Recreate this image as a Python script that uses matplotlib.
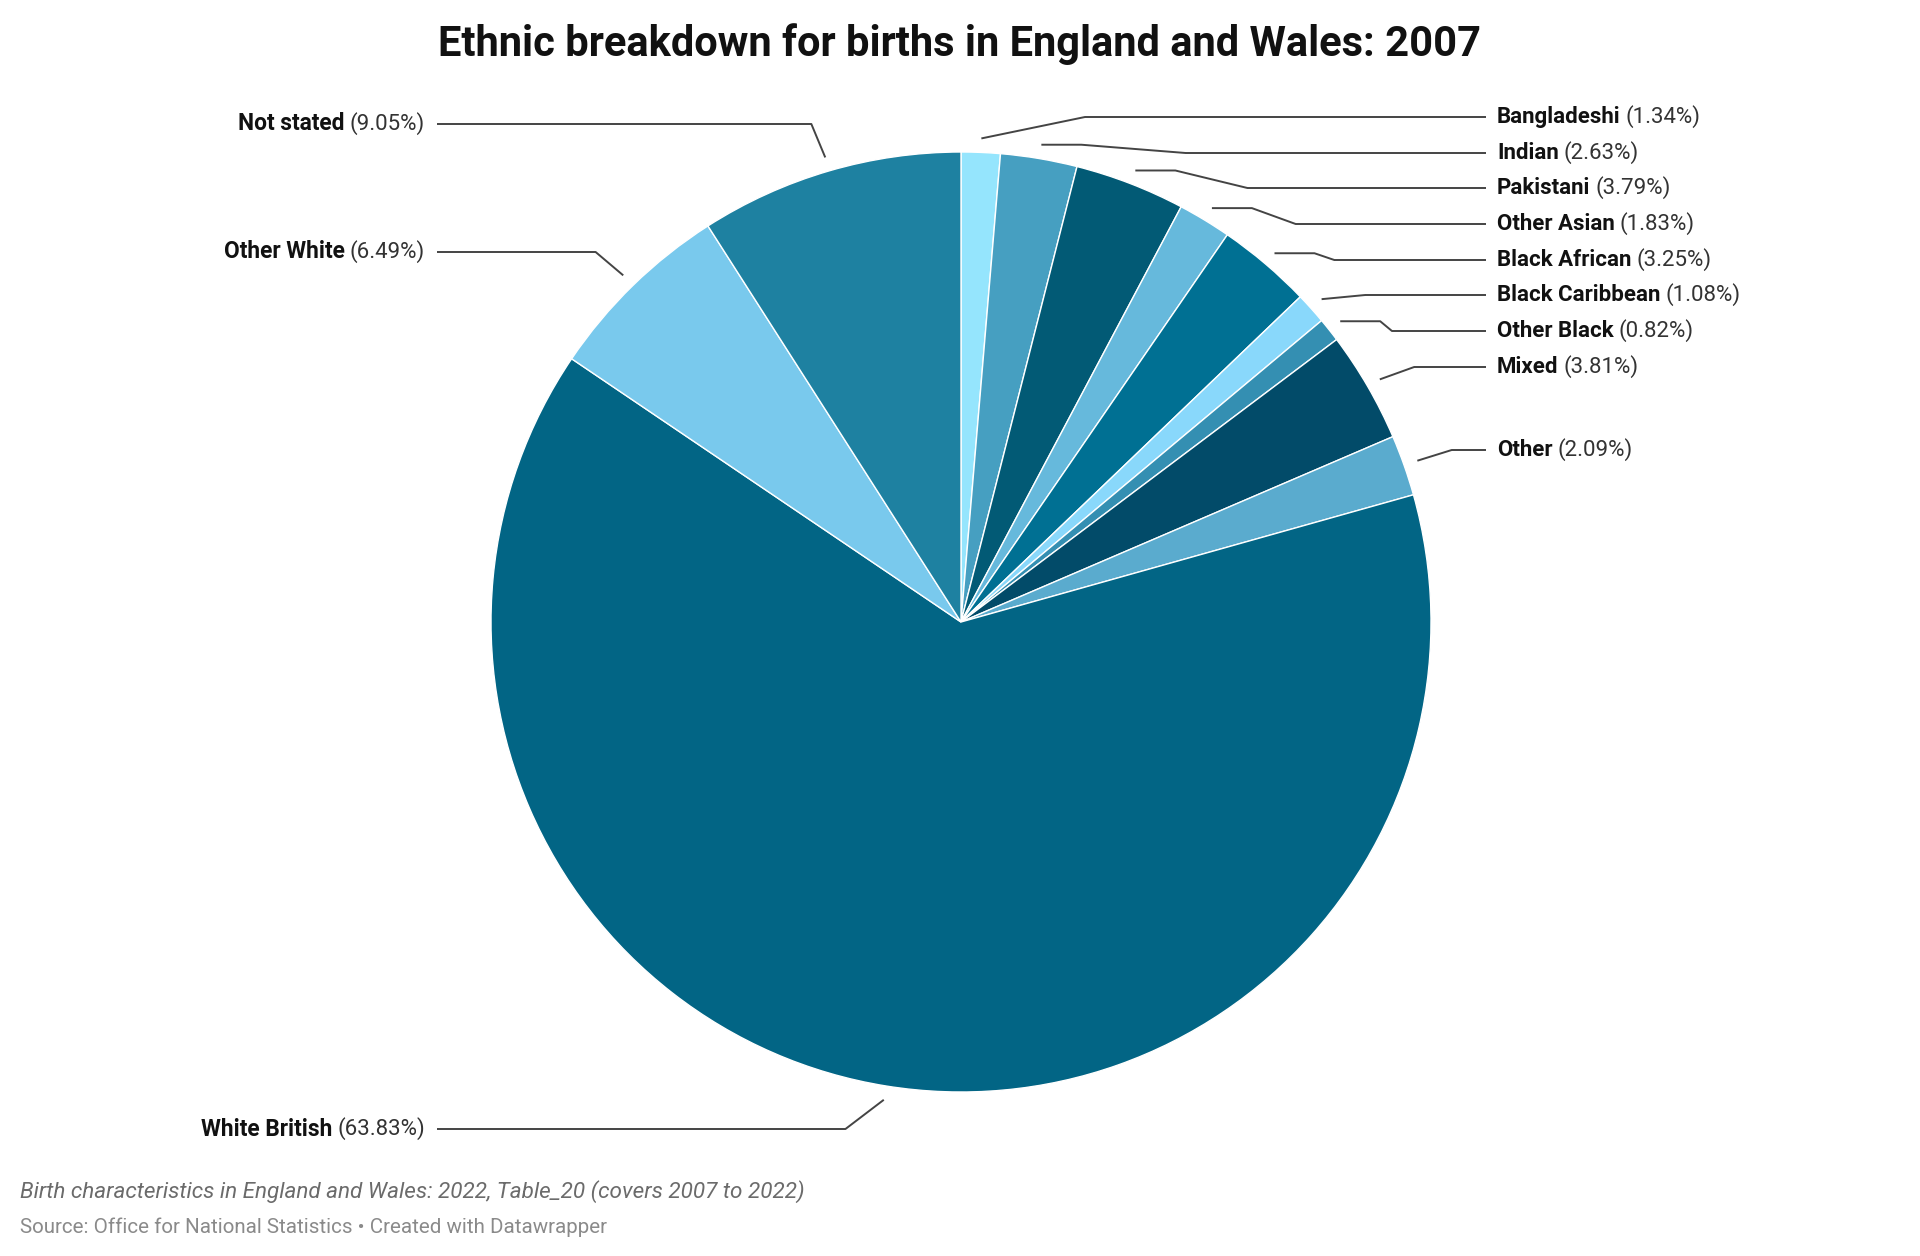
import numpy as np
import matplotlib
matplotlib.use("Agg")
import matplotlib.pyplot as plt

plt.rcParams['font.family'] = ['Roboto', 'DejaVu Sans']

# data, clockwise from 12 o'clock
groups = ['Bangladeshi', 'Indian', 'Pakistani', 'Other Asian', 'Black African',
          'Black Caribbean', 'Other Black', 'Mixed', 'Other', 'White British',
          'Other White', 'Not stated']
shares = [1.34, 2.63, 3.79, 1.83, 3.25, 1.08, 0.82, 3.81, 2.09, 63.83, 6.49, 9.05]
colours = ['#95e5fd', '#469fc1', '#025a75', '#66b9dc', '#007093', '#89d8fb',
           '#348fb2', '#024b69', '#5aabce', '#026585', '#79c9ed', '#1e81a1']

# label layout (pixel rows, measured from the top)
label_rows = {'Bangladeshi': 117, 'Indian': 153, 'Pakistani': 188, 'Other Asian': 224,
              'Black African': 260, 'Black Caribbean': 295, 'Other Black': 331,
              'Mixed': 367, 'Other': 450, 'Not stated': 124, 'Other White': 252,
              'White British': 1129}

W, H = 1920, 1256
CX, CY = 961, 622
R = 470

fig = plt.figure(figsize=(W / 100, H / 100), dpi=100)
ax = fig.add_axes([0, 0, 1, 1])


def fy(y):
    return H - y


ax.pie(shares, colors=colours, startangle=90, counterclock=False,
       center=(CX, fy(CY)), radius=R,
       wedgeprops=dict(edgecolor='white', linewidth=1.0))
ax.set_xlim(0, W)
ax.set_ylim(0, H)
ax.set_aspect('equal')
ax.axis('off')

total = sum(shares)
cum = np.cumsum([0] + shares[:-1])
line_kw = dict(color='#444444', lw=1.4, solid_capstyle='butt')

fig.canvas.draw()
renderer = fig.canvas.get_renderer()

for name, v, c0 in zip(groups, shares, cum):
    theta = np.radians(90 - 360 * (c0 + v / 2) / total)
    right = np.cos(theta) >= 0
    ly = label_rows[name]
    r0 = R + 14
    r2 = R + 50
    p0 = (CX + r0 * np.cos(theta), CY - r0 * np.sin(theta))
    dx = np.sqrt(max(r2 ** 2 - (ly - CY) ** 2, 0))
    knee_x = CX + dx if right else CX - dx
    xs, ys = [p0[0]], [p0[1]]
    if right and ly > p0[1]:
        xs.append(min(p0[0] + 40, knee_x - 6))
        ys.append(p0[1])
    xs.append(knee_x)
    ys.append(ly)
    xs.append(1486 if right else 437)
    ys.append(ly)
    ax.plot(xs, [fy(y) for y in ys], **line_kw)

    pct = f'({v:.2f}%)'
    if right:
        t = ax.text(1497, fy(ly), name, fontsize=16, fontweight='bold',
                    color='#111111', ha='left', va='center')
        bb = t.get_window_extent(renderer)
        ax.text(bb.x1 + 5, fy(ly), pct, fontsize=16, color='#333333',
                ha='left', va='center')
    else:
        t = ax.text(425, fy(ly), pct, fontsize=16, color='#333333',
                    ha='right', va='center')
        bb = t.get_window_extent(renderer)
        ax.text(bb.x0 - 5, fy(ly), name, fontsize=16.4, fontweight='bold',
                color='#111111', ha='right', va='center')

fig.text(0.5, 1 - 44 / H, 'Ethnic breakdown for births in England and Wales: 2007',
         ha='center', va='center', fontsize=30, fontweight='bold', color='#111111')
fig.text(20 / W, 1 - 1192 / H,
         'Birth characteristics in England and Wales: 2022, Table_20 (covers 2007 to 2022)',
         ha='left', va='center', fontsize=16.2, fontstyle='italic', color='#6b6b6b')
fig.text(20 / W, 1 - 1227 / H,
         'Source: Office for National Statistics \u2022 Created with Datawrapper',
         ha='left', va='center', fontsize=14.8, color='#8a8a8a')

fig.savefig('out.png', dpi=100, facecolor='white')
